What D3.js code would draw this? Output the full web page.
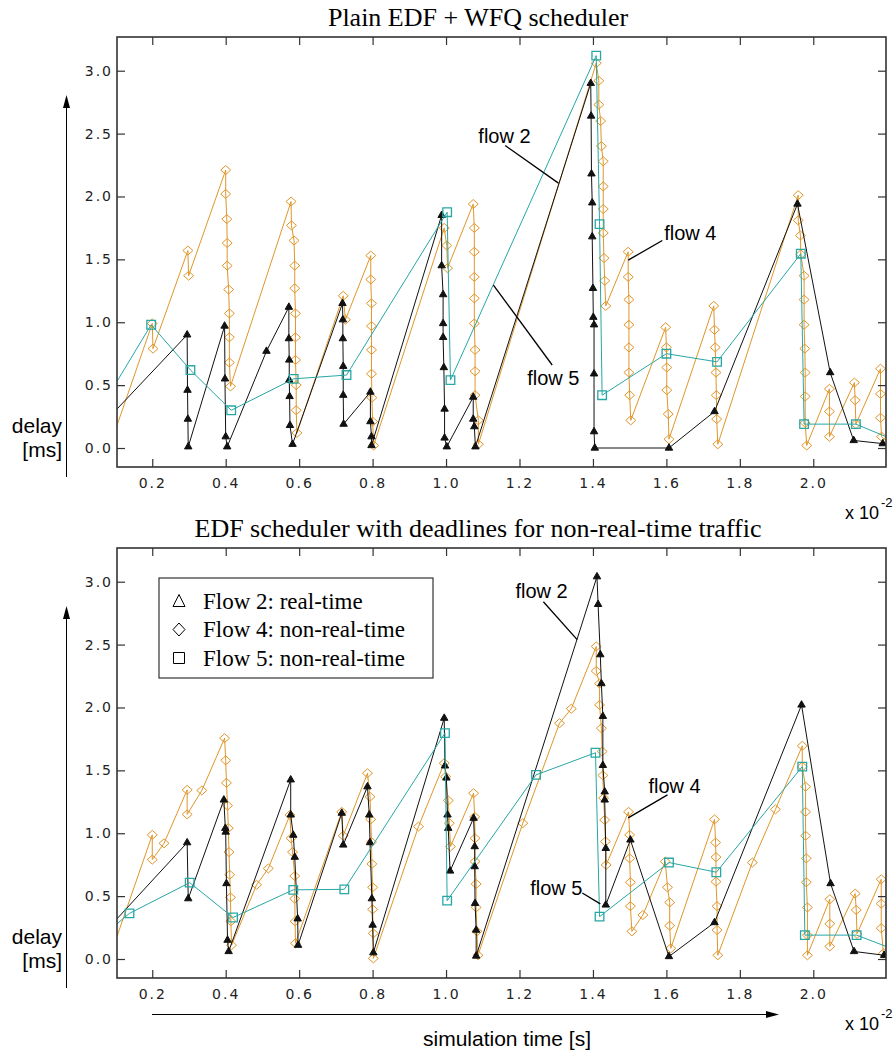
<!DOCTYPE html>
<html>
<head>
<meta charset="utf-8">
<script src="https://cdn.jsdelivr.net/npm/d3@7"></script>
<style>
  body { margin: 0; background: #fff; }
</style>
</head>
<body>
<div id="chart"></div>
<script>
// delay [ms] against simulation time [x 10^-2 s]

// top panel: plain EDF + WFQ
const topFlow2 = [
  [0.104,0.31],[0.295,0.90],[0.296,0.46],[0.297,0.23],[0.298,0.01],
  [0.397,0.97],[0.398,0.55],[0.400,0.09],[0.404,0.01],
  [0.511,0.77],[0.572,1.12],[0.572,0.87],[0.573,0.70],[0.573,0.54],[0.574,0.41],[0.575,0.18],[0.582,0.03],
  [0.718,1.15],[0.719,1.02],[0.719,0.87],[0.720,0.65],[0.720,0.42],[0.721,0.19],
  [0.794,0.445],[0.794,0.21],[0.797,0.09],[0.797,0.02],
  [0.988,1.85],[0.988,1.45],[0.992,1.22],[0.992,0.99],[0.992,0.88],[0.994,0.64],[0.996,0.31],[0.996,0.08],[1.002,0.01],
  [1.074,0.405],[1.074,0.23],[1.077,0.17],[1.080,0.01],
  [1.394,2.90],[1.395,2.64],[1.396,2.18],[1.398,1.95],[1.398,1.68],[1.400,1.27],[1.401,1.04],[1.403,0.98],[1.403,0.59],[1.403,0.13],[1.405,0.00],
  [1.607,0.00],[1.731,0.29],[1.957,1.94],[2.046,0.60],[2.110,0.06],[2.189,0.035],[2.198,0.03]
];
const topFlow4 = [
  [0.104,0.18],[0.200,0.99],[0.202,0.79],[0.297,1.57],[0.299,1.37],
  [0.400,2.21],[0.400,2.02],[0.403,1.82],[0.404,1.63],[0.404,1.45],[0.408,1.26],[0.410,1.07],[0.410,0.88],[0.410,0.68],[0.413,0.49],
  [0.578,1.96],[0.579,1.77],[0.586,1.65],[0.588,1.45],[0.588,1.27],[0.590,1.07],[0.590,0.88],[0.590,0.70],[0.592,0.50],[0.592,0.30],[0.594,0.12],
  [0.720,1.21],[0.726,1.02],
  [0.795,1.53],[0.795,1.34],[0.797,1.15],[0.797,0.97],[0.797,0.78],[0.797,0.59],[0.798,0.40],[0.800,0.21],[0.803,0.02],
  [0.995,1.75],[1.002,1.61],[1.004,1.43],
  [1.074,1.94],[1.077,1.75],[1.077,1.56],[1.077,1.36],[1.077,1.19],[1.077,0.99],[1.079,0.78],[1.079,0.61],[1.079,0.42],[1.088,0.22],[1.088,0.03],
  [1.409,3.06],[1.416,2.92],[1.416,2.73],[1.421,2.60],[1.423,2.40],[1.428,2.28],[1.428,2.08],[1.428,1.90],[1.428,1.71],[1.430,1.51],[1.432,1.33],[1.435,1.13],
  [1.496,1.56],[1.496,1.36],[1.498,1.18],[1.498,0.98],[1.498,0.80],[1.498,0.60],[1.500,0.42],[1.503,0.22],
  [1.598,0.96],[1.600,0.80],[1.601,0.64],[1.601,0.46],[1.605,0.27],[1.607,0.07],
  [1.729,1.13],[1.731,0.94],[1.733,0.80],[1.735,0.60],[1.736,0.42],[1.737,0.23],[1.740,0.03],
  [1.959,2.01],[1.959,1.81],[1.965,1.69],[1.966,1.54],[1.975,1.37],[1.975,1.18],[1.975,0.98],[1.977,0.79],[1.978,0.60],[1.978,0.41],[1.978,0.20],[1.982,0.02],
  [2.044,0.47],[2.044,0.29],[2.044,0.09],
  [2.112,0.52],[2.114,0.38],[2.116,0.19],
  [2.183,0.63],[2.183,0.43],[2.183,0.24],[2.186,0.09],[2.198,0.06]
];
const topFlow5 = [
  [0.104,0.53],[0.197,0.98],[0.304,0.62],[0.415,0.30],[0.585,0.55],[0.729,0.58],
  [1.003,1.875],[1.012,0.54],[1.409,3.12],[1.418,1.78],[1.425,0.42],[1.600,0.75],
  [1.738,0.685],[1.966,1.545],[1.975,0.19],[2.116,0.19],[2.198,0.09]
];

// bottom panel: EDF with deadlines for non-real-time traffic
const botFlow2 = [
  [0.104,0.32],[0.295,0.925],[0.298,0.48],
  [0.395,1.265],[0.399,1.04],[0.400,1.01],[0.402,0.60],[0.405,0.15],[0.408,0.06],
  [0.577,1.425],[0.577,1.146],[0.584,0.985],[0.588,0.81],[0.596,0.32],[0.597,0.11],
  [0.716,1.16],[0.720,0.907],
  [0.786,1.37],[0.791,1.146],[0.793,0.926],[0.798,0.48],[0.800,0.27],[0.802,0.05],
  [0.995,1.915],[0.997,1.536],[1.001,1.44],[1.004,1.146],[1.006,1.04],[1.011,0.70],
  [1.075,1.12],[1.078,0.894],[1.078,0.735],[1.079,0.443],[1.082,0.23],[1.082,0.024],
  [1.411,3.04],[1.414,2.82],[1.420,2.42],[1.423,2.19],[1.427,1.93],[1.427,1.54],[1.432,1.33],[1.432,1.265],[1.435,0.88],[1.435,0.43],
  [1.502,0.947],[1.607,0.02],[1.731,0.29],[1.968,2.02],[2.047,0.60],[2.111,0.06],[2.193,0.03],[2.198,0.03]
];
const botFlow4 = [
  [0.104,0.18],[0.200,0.987],[0.200,0.79],[0.232,0.92],[0.295,1.345],[0.295,1.15],[0.335,1.34],
  [0.397,1.756],[0.400,1.58],[0.402,1.40],[0.405,1.22],[0.407,1.04],[0.409,0.85],[0.411,0.67],[0.413,0.49],[0.414,0.30],[0.416,0.11],
  [0.484,0.59],[0.516,0.72],[0.575,1.146],[0.578,0.96],[0.582,0.85],[0.588,0.66],[0.588,0.48],[0.589,0.30],[0.590,0.125],
  [0.716,1.17],[0.720,0.98],
  [0.786,1.477],[0.793,1.29],[0.795,1.11],[0.797,0.93],[0.798,0.756],[0.800,0.57],[0.800,0.395],[0.802,0.204],[0.802,0.005],
  [0.925,1.053],[0.995,1.557],[0.999,1.45],[1.006,1.26],[1.009,1.08],[1.012,0.894],
  [1.075,1.318],[1.078,1.13],[1.079,0.96],[1.079,0.775],[1.082,0.597],[1.082,0.41],[1.084,0.22],[1.087,0.03],
  [1.209,1.08],[1.309,1.875],[1.341,1.99],[1.409,2.485],[1.409,2.29],[1.418,2.19],[1.418,2.02],[1.423,1.835],[1.425,1.65],[1.427,1.46],[1.429,1.28],[1.432,1.106],[1.434,0.934],[1.436,0.748],
  [1.497,1.17],[1.500,0.987],[1.500,0.80],[1.502,0.61],[1.502,0.42],[1.506,0.22],
  [1.536,0.35],[1.597,0.775],[1.603,0.57],[1.609,0.45],[1.609,0.265],[1.612,0.085],
  [1.731,1.11],[1.734,0.926],[1.735,0.81],[1.735,0.615],[1.738,0.42],[1.738,0.23],[1.740,0.03],
  [1.834,0.767],[1.897,1.19],[1.970,1.695],[1.970,1.53],[1.979,1.37],[1.979,1.17],[1.979,0.98],[1.981,0.80],[1.981,0.61],[1.984,0.41],[1.984,0.19],[1.984,0.03],
  [2.045,0.475],[2.045,0.28],[2.045,0.10],
  [2.114,0.52],[2.117,0.39],[2.119,0.20],
  [2.185,0.634],[2.185,0.44],[2.185,0.245],[2.191,0.045],[2.198,0.04]
];
const botFlow5 = [
  [0.104,0.28],[0.138,0.363],[0.302,0.607],[0.420,0.33],[0.584,0.55],[0.723,0.554],
  [0.997,1.796],[1.003,0.464],[1.245,1.464],[1.407,1.64],[1.418,0.337],[1.607,0.767],
  [1.736,0.69],[1.970,1.53],[1.977,0.19],[2.118,0.19],[2.198,0.10]
];

const xTicks = [0.2, 0.4, 0.6, 0.8, 1.0, 1.2, 1.4, 1.6, 1.8, 2.0];
const yTicks = [0.0, 0.5, 1.0, 1.5, 2.0, 2.5, 3.0];
const panelTitles = ["Plain EDF + WFQ scheduler", "EDF scheduler with deadlines for non-real-time traffic"];
const legendLabels = ["Flow 2: real-time", "Flow 4: non-real-time", "Flow 5: non-real-time"];

// call-out labels, anchored in data units: text position, leader start, leader end
const topNotes = [
  {label: "flow 2", at: [1.088, 2.425], from: [1.161, 2.405], to: [1.306, 2.106]},
  {label: "flow 5", at: [1.221, 0.499], from: [1.289, 0.660], to: [1.129, 1.295]},
  {label: "flow 4", at: [1.594, 1.653], from: [1.589, 1.650], to: [1.496, 1.494]}
];
const botNotes = [
  {label: "flow 2", at: [1.189, 2.873], from: [1.265, 2.841], to: [1.357, 2.539]},
  {label: "flow 4", at: [1.551, 1.321], from: [1.603, 1.305], to: [1.496, 1.122]},
  {label: "flow 5", at: [1.229, 0.509], from: [1.371, 0.525], to: [1.420, 0.438]}
];

const colors = {f2: "#111", f4: "#e0962a", f5: "#27a7a5"};
const sans = "'Liberation Sans', Arial, sans-serif";
const serif = "'Liberation Serif', 'Times New Roman', serif";
const tickFont = "'DejaVu Sans', sans-serif";

const svg = d3.select("#chart").append("svg")
    .attr("width", 896)
    .attr("height", 1054);

const left = 117, right = 886;
const x = d3.scaleLinear().domain([0.104, 2.198]).range([left, right]);

const diamond = "M0,-4.5L5,0L0,4.5L-5,0Z";
const triangle = d3.symbol(d3.symbolTriangle, 24)();
const square = "M-4.3,-4.3H4.3V4.3H-4.3Z";

function inside(d) {
    return d[0] > 0.106 && d[0] < 2.195;
}

function drawPanel(top, bottom, f2, f4, f5, notes, title, idx) {
    const y = d3.scaleLinear().domain([-0.151, 3.268]).range([bottom, top]);
    const g = svg.append("g");

    // title
    g.append("text")
        .attr("x", 478)
        .attr("y", top - 11)
        .attr("text-anchor", "middle")
        .style("font-family", serif)
        .style("font-size", "26px")
        .text(title);

    const clipId = "clip" + idx;
    svg.append("clipPath").attr("id", clipId)
        .append("rect")
        .attr("x", left).attr("y", top)
        .attr("width", right - left).attr("height", bottom - top);

    const plot = g.append("g").attr("clip-path", "url(#" + clipId + ")");
    const line = d3.line().x(d => x(d[0])).y(d => y(d[1]));

    const series = [
        {data: f4, color: colors.f4, mark: diamond, fill: "none"},
        {data: f2, color: colors.f2, mark: triangle, fill: colors.f2},
        {data: f5, color: colors.f5, mark: square, fill: "none"}
    ];
    series.forEach(function(s) {
        plot.append("path")
            .datum(s.data)
            .attr("fill", "none")
            .attr("stroke", s.color)
            .attr("stroke-width", 1)
            .attr("d", line);
        plot.selectAll(null)
            .data(s.data.filter(inside))
            .enter().append("path")
            .attr("d", s.mark)
            .attr("transform", d => "translate(" + x(d[0]) + "," + y(d[1]) + ")")
            .attr("fill", s.fill)
            .attr("stroke", s.color)
            .attr("stroke-width", s.mark === square ? 1.3 : 1);
    });

    // axes, ticks pointing inward on all sides
    const xb = g.append("g")
        .attr("transform", "translate(0," + bottom + ")")
        .call(d3.axisBottom(x).tickValues(xTicks).tickFormat(d3.format(".1f"))
            .tickSizeInner(-8).tickSizeOuter(0).tickPadding(11));
    const xt = g.append("g")
        .attr("transform", "translate(0," + top + ")")
        .call(d3.axisTop(x).tickValues(xTicks).tickFormat("")
            .tickSizeInner(-8).tickSizeOuter(0));
    const yl = g.append("g")
        .attr("transform", "translate(" + left + ",0)")
        .call(d3.axisLeft(y).tickValues(yTicks).tickFormat(d3.format(".1f"))
            .tickSizeInner(-8).tickSizeOuter(0).tickPadding(4));
    const yr = g.append("g")
        .attr("transform", "translate(" + right + ",0)")
        .call(d3.axisRight(y).tickValues(yTicks).tickFormat("")
            .tickSizeInner(-8).tickSizeOuter(0));
    [xb, xt, yl, yr].forEach(function(a) {
        a.select(".domain").remove();
        a.selectAll(".tick line").attr("stroke", "#333").attr("stroke-width", 1.2);
        a.selectAll(".tick text")
            .attr("fill", "#222")
            .style("font-family", tickFont)
            .style("font-size", "14px")
            .style("letter-spacing", "2px");
    });

    g.append("rect")
        .attr("x", left).attr("y", top)
        .attr("width", right - left).attr("height", bottom - top)
        .attr("fill", "none")
        .attr("stroke", "#333")
        .attr("stroke-width", 1.6);

    // call-outs
    notes.forEach(function(n) {
        g.append("line")
            .attr("x1", x(n.from[0])).attr("y1", y(n.from[1]))
            .attr("x2", x(n.to[0])).attr("y2", y(n.to[1]))
            .attr("stroke", "#000").attr("stroke-width", 1.3);
        g.append("text")
            .attr("x", x(n.at[0])).attr("y", y(n.at[1]))
            .style("font-family", sans)
            .style("font-size", "20px")
            .text(n.label);
    });

    // y label with arrow
    g.append("line")
        .attr("x1", 66.5).attr("x2", 66.5)
        .attr("y1", top + 68).attr("y2", bottom + 10)
        .attr("stroke", "#000").attr("stroke-width", 1);
    g.append("path")
        .attr("d", "M66.5," + (top + 58) + "L70,"  + (top + 71) + "L63," + (top + 71) + "Z")
        .attr("fill", "#000");
    g.append("text")
        .attr("x", 62).attr("y", bottom - 34)
        .attr("text-anchor", "end")
        .style("font-family", sans).style("font-size", "21px")
        .text("delay");
    g.append("text")
        .attr("x", 62).attr("y", bottom - 10)
        .attr("text-anchor", "end")
        .style("font-family", sans).style("font-size", "21px")
        .text("[ms]");

    // x 10^-2 multiplier
    const mult = g.append("text")
        .attr("x", 845).attr("y", bottom + 52)
        .style("font-family", sans).style("font-size", "18px");
    mult.append("tspan").text("x 10");
    mult.append("tspan").attr("dx", 2).attr("dy", -12).style("font-size", "13px").text("-2");

    return y;
}

drawPanel(37, 467, topFlow2, topFlow4, topFlow5, topNotes, panelTitles[0], 0);
drawPanel(548, 978, botFlow2, botFlow4, botFlow5, botNotes, panelTitles[1], 1);

// legend in the lower panel
const legend = svg.append("g");
legend.append("rect")
    .attr("x", 159).attr("y", 578)
    .attr("width", 274).attr("height", 100)
    .attr("fill", "#fff")
    .attr("stroke", "#333")
    .attr("stroke-width", 1.2);
const legendMarks = [
    "M0,-6.5L6,5.5L-6,5.5Z",
    "M0,-6.5L6,0L0,6.5L-6,0Z",
    "M-5.5,-5.5H5.5V5.5H-5.5Z"
];
legendLabels.forEach(function(label, i) {
    const cy = 601 + i * 28.5;
    legend.append("path")
        .attr("d", legendMarks[i])
        .attr("transform", "translate(179," + cy + ")")
        .attr("fill", "none")
        .attr("stroke", "#000")
        .attr("stroke-width", 1);
    legend.append("text")
        .attr("x", 203).attr("y", cy + 7.5)
        .style("font-family", serif)
        .style("font-size", "23px")
        .text(label);
});

// x label with arrow
svg.append("line")
    .attr("x1", 152).attr("x2", 768)
    .attr("y1", 1014.5).attr("y2", 1014.5)
    .attr("stroke", "#000").attr("stroke-width", 1);
svg.append("path")
    .attr("d", "M779,1014.5L766,1011L766,1018Z")
    .attr("fill", "#000");
svg.append("text")
    .attr("x", 507).attr("y", 1046)
    .attr("text-anchor", "middle")
    .style("font-family", sans)
    .style("font-size", "21px")
    .text("simulation time [s]");
</script>
</body>
</html>
